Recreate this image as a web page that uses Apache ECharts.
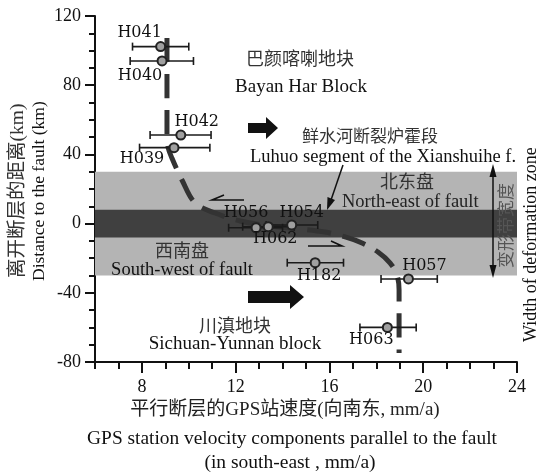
<!DOCTYPE html>
<html>
<head>
<meta charset="utf-8">
<script src="https://cdn.jsdelivr.net/npm/echarts@6/dist/echarts.min.js"></script>
<style>html,body{margin:0;padding:0;background:#fff}#c{width:539px;height:475px}</style>
</head>
<body>
<div id="c"></div>
<script>
// ---------- data ----------
const stations = ['H041','H040','H042','H039','H056','H062','H054','H182','H057','H063'];
const velocity = [8.80, 8.86, 9.66, 9.37, 12.87, 13.39, 14.39, 15.39, 19.37, 18.47];
const distance = [102.3, 94.0, 51.2, 43.9, -2.4, -1.8, -0.8, -22.6, -32.0, -60.0];
const errLow  = [7.6, 7.5, 8.35, 7.9, 11.7, 12.3, 13.3, 14.2, 18.2, 17.3];
const errHigh = [10.0, 10.2, 10.95, 10.9, 14.0, 14.5, 15.5, 16.6, 20.6, 19.7];

const curveVelocity = [9.07, 9.07, 9.07, 9.12, 9.28, 9.71, 10.27, 11.12, 12.19, 13.47, 14.75, 15.81, 16.67, 17.39, 18.07, 18.59, 18.88, 18.97, 18.97, 18.97];
const curveDistance = [107.3, 80, 52, 44, 37.9, 25.2, 11.9, 6.1, 1.5, -1.4, -3.1, -4.9, -7.7, -11.2, -16.4, -22.8, -29.7, -38.4, -55, -74.8];

const deformationZone = [-30, 30];
const faultCore = [-8, 8];

const xMajorTicks = [8, 12, 16, 20, 24];
const xMinorTicks = [6, 7, 9, 10, 11, 13, 14, 15, 17, 18, 19, 21, 22, 23];
const yTicks = [-80, -40, 0, 40, 80, 120];

// ---------- label placement (pixel offsets) ----------
const labelOffset = {
  H041: [-21, -14], H040: [-22, 15], H042: [16, -13], H039: [-32, 11],
  H056: [-10, -15], H062: [7, 12], H054: [10, -12], H182: [4, 13],
  H057: [16, -13], H063: [-16, 12]
};

const FONT = '"Liberation Serif", "Times New Roman", "Noto Sans CJK SC", serif';
const LABEL_FONT = '"DejaVu Serif", "Liberation Serif", serif';
const chart = echarts.init(document.getElementById('c'), null, {renderer: 'canvas'});

function txt(text, x, y, size, color, align, rot) {
  return {
    type: 'text', x: x, y: y, rotation: rot || 0, z: 100,
    style: {
      text: text, x: 0, y: 0, fill: color || '#111',
      font: size + 'px ' + FONT,
      textAlign: align || 'center', textVerticalAlign: 'middle'
    }
  };
}
function poly(points, fill) {
  return {type: 'polygon', z: 100, shape: {points: points}, style: {fill: fill || '#111'}};
}
function pline(points, w) {
  return {type: 'polyline', z: 100, shape: {points: points}, style: {stroke: '#111', lineWidth: w || 1.5, fill: null}};
}

const errData = stations.map((s, i) => [velocity[i], errLow[i], errHigh[i], distance[i]]);
const pointData = stations.map((s, i) => ({
  name: s, value: [velocity[i], distance[i]],
  label: {offset: labelOffset[s]}
}));

const UP = Math.PI / 2;
const option = {
  backgroundColor: '#fff',
  animation: false,
  grid: {left: 95, right: 22, top: 16, bottom: 113},
  xAxis: [{
    type: 'value', min: 6, max: 24, position: 'bottom',
    axisLine: {onZero: false, lineStyle: {color: '#111', width: 2}},
    axisTick: {customValues: xMajorTicks, length: 11, lineStyle: {color: '#111', width: 2}},
    axisLabel: {customValues: xMajorTicks, margin: 16, fontSize: 18, fontFamily: FONT, color: '#111'},
    splitLine: {show: false}
  }, {
    type: 'value', min: 6, max: 24, position: 'bottom',
    axisLine: {show: false, onZero: false},
    axisTick: {customValues: xMinorTicks, length: 7, lineStyle: {color: '#111', width: 2}},
    axisLabel: {show: false},
    splitLine: {show: false}
  }],
  yAxis: {
    type: 'value', min: -80, max: 120, interval: 40,
    axisLine: {onZero: false, lineStyle: {color: '#111', width: 2}},
    axisTick: {length: 10, lineStyle: {color: '#111', width: 2}},
    minorTick: {show: true, splitNumber: 4, length: 6, lineStyle: {color: '#111', width: 2}},
    axisLabel: {margin: 14, fontSize: 18, fontFamily: FONT, color: '#111',
      customValues: yTicks},
    splitLine: {show: false}
  },
  series: [{
    type: 'line', data: [], z: 1, silent: true,
    markArea: {
      silent: true,
      data: [
        [{yAxis: deformationZone[0], itemStyle: {color: '#b4b4b4'}}, {yAxis: deformationZone[1]}],
        [{yAxis: faultCore[0], itemStyle: {color: '#404040'}}, {yAxis: faultCore[1]}]
      ]
    }
  }, {
    type: 'line', z: 3, symbol: 'none', smooth: 0.35,
    data: curveVelocity.map((v, i) => [v, curveDistance[i]]),
    lineStyle: {color: '#333', width: 5, type: [24, 12], cap: 'butt'}
  }, {
    type: 'custom', z: 4,
    data: errData,
    encode: {x: [0, 1, 2], y: 3},
    renderItem: function (params, api) {
      const y = api.value(3);
      const a = api.coord([api.value(1), y]);
      const b = api.coord([api.value(2), y]);
      const st = {stroke: '#1a1a1a', lineWidth: 1.6};
      return {type: 'group', children: [
        {type: 'line', shape: {x1: a[0], y1: a[1], x2: b[0], y2: b[1]}, style: st},
        {type: 'line', shape: {x1: a[0], y1: a[1] - 4, x2: a[0], y2: a[1] + 4}, style: st},
        {type: 'line', shape: {x1: b[0], y1: b[1] - 4, x2: b[0], y2: b[1] + 4}, style: st}
      ]};
    }
  }, {
    type: 'scatter', z: 5, symbol: 'circle', symbolSize: 9,
    itemStyle: {color: '#a0a0a0', borderColor: '#222', borderWidth: 2, opacity: 1},
    data: pointData,
    label: {
      show: true, position: 'inside', formatter: p => p.name,
      fontFamily: LABEL_FONT, fontSize: 16, color: '#111'
    }
  }],
  graphic: [
    txt('巴颜喀喇地块', 300, 60, 18, '#333'),
    txt('Bayan Har Block', 301, 87, 19, '#111'),
    txt('鲜水河断裂炉霍段', 302, 138, 17, '#333', 'left'),
    txt('Luhuo segment of the Xianshuihe f.', 250, 157, 18.5, '#111', 'left'),
    txt('北东盘', 407, 183, 18, '#333'),
    txt('North-east of fault', 342, 202, 18.5, '#222', 'left'),
    txt('西南盘', 182, 252, 18, '#333'),
    txt('South-west of fault', 182, 270, 18.5, '#111'),
    txt('川滇地块', 235, 327, 18, '#333'),
    txt('Sichuan-Yunnan block', 235, 344, 19, '#111'),
    txt('变形带宽度', 508, 268, 17, '#555', 'left', UP),
    txt('Width of deformation zone', 531, 342, 18, '#111', 'left', UP),
    txt('离开断层的距离(km)', 18, 278, 19.5, '#333', 'left', UP),
    txt('Distance to the fault (km)', 39, 281, 17.5, '#111', 'left', UP),
    txt('平行断层的GPS站速度(向南东, mm/a)', 285, 410, 19, '#222'),
    txt('GPS station velocity components parallel to the fault', 292, 439, 19.4, '#111'),
    txt('(in south-east , mm/a)', 290, 463, 19.5, '#111'),
    // thick movement arrows
    poly([[248,123],[266,123],[266,117],[278,128],[266,139],[266,133],[248,133]]),
    poly([[248,291],[290,291],[290,285],[304,297],[290,309],[290,303],[248,303]]),
    // half arrows (shear sense)
    pline([[244,200],[212,200],[224,195]], 1.6),
    pline([[308,246],[342,246],[331,241]], 1.6),
    // pointer to fault
    pline([[343,165],[331,200]], 1.5),
    poly([[327,210],[327.5,197],[335,200]]),
    // deformation zone width arrow
    pline([[493,172],[493,270]], 1.5),
    poly([[493,164],[489.5,177],[496.5,177]]),
    poly([[493,278],[489.5,265],[496.5,265]])
  ]
};
chart.setOption(option);
</script>
</body>
</html>
